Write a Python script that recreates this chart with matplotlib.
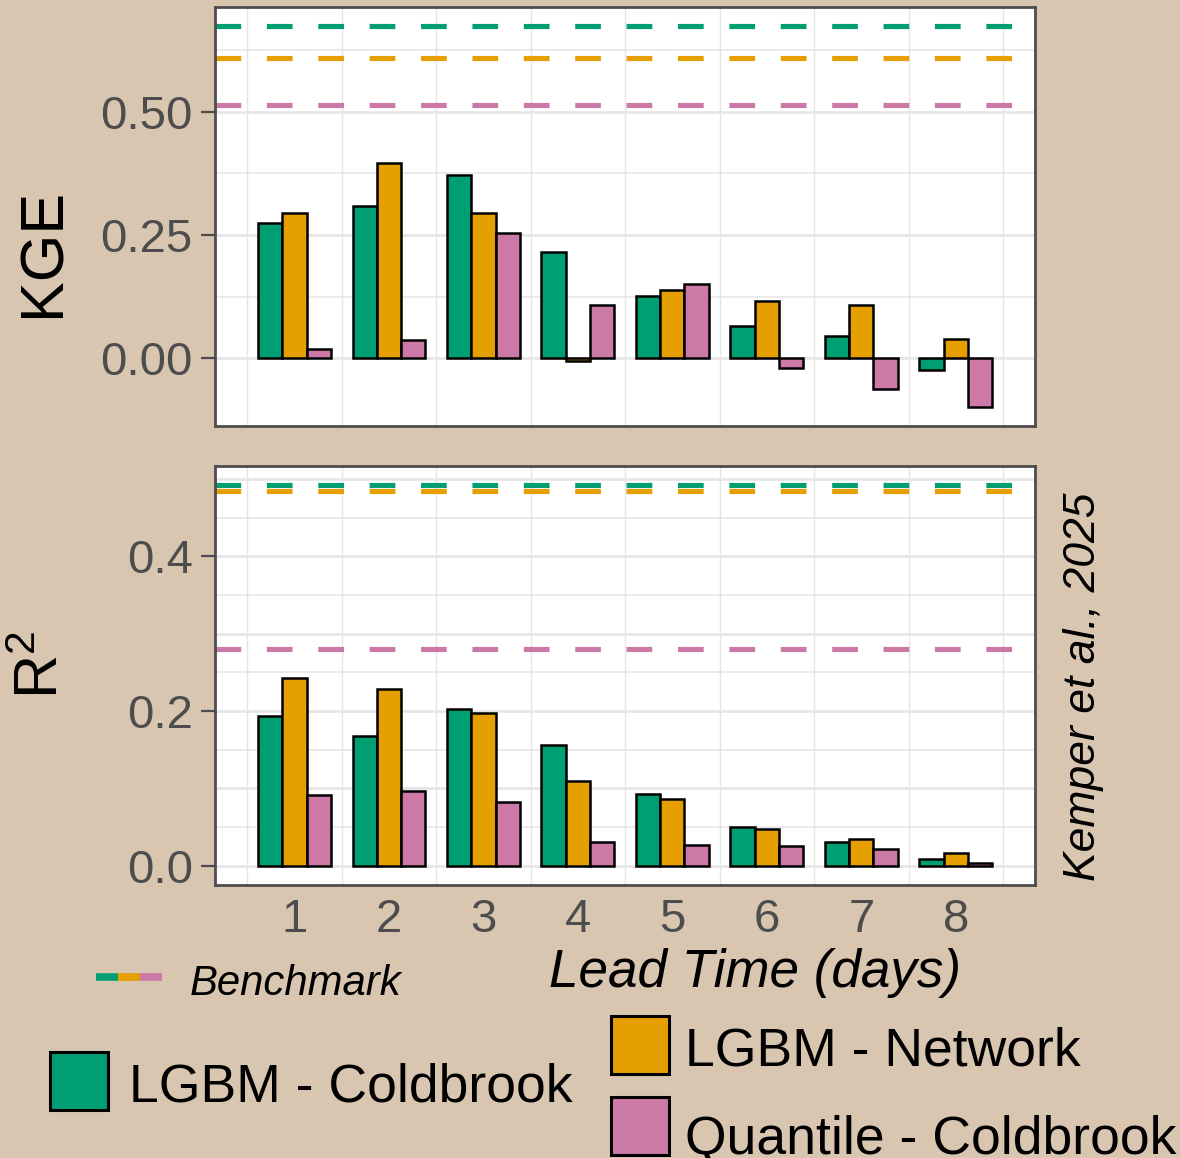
import numpy as np
import matplotlib.pyplot as plt
from matplotlib.patches import Rectangle
from matplotlib.lines import Line2D

plt.rcParams['font.family'] = ['Liberation Sans', 'DejaVu Sans']
plt.rcParams['mathtext.fontset'] = 'custom'
plt.rcParams['mathtext.rm'] = 'Liberation Sans'

# data
lead_days = [1, 2, 3, 4, 5, 6, 7, 8]
models = ['LGBM - Coldbrook', 'LGBM - Network', 'Quantile - Coldbrook']
colors = ['#009E73', '#E69F00', '#CC79A7']

kge_coldbrook = [0.274, 0.309, 0.372, 0.215, 0.126, 0.065, 0.046, -0.024]
kge_network = [0.294, 0.395, 0.295, -0.005, 0.138, 0.117, 0.108, 0.040]
kge_quantile = [0.020, 0.037, 0.255, 0.109, 0.150, -0.020, -0.062, -0.099]
kge_benchmark = [0.673, 0.609, 0.513]

r2_coldbrook = [0.193, 0.168, 0.203, 0.156, 0.093, 0.050, 0.031, 0.009]
r2_network = [0.243, 0.228, 0.197, 0.110, 0.086, 0.048, 0.034, 0.016]
r2_quantile = [0.092, 0.097, 0.083, 0.031, 0.027, 0.025, 0.022, 0.004]
r2_benchmark = [0.493, 0.485, 0.280]

BG = '#d9c6b1'
GRID = '#e5e5e5'
TICK = '#4d4d4d'
W, H = 1180, 1158

fig = plt.figure(figsize=(11.8, 11.58), dpi=100, facecolor=BG)


def px_rect(x0, y0, x1, y1):
    # pixel box -> figure fraction rect
    return [x0 / W, 1 - y1 / H, (x1 - x0) / W, (y1 - y0) / H]


def draw_panel(rect, series, bench, ylim, major, minor, ticks, labels, show_x):
    ax = fig.add_axes(rect)
    ax.set_facecolor('white')
    x = np.array(lead_days, dtype=float)
    w = 0.257
    for i, vals in enumerate(series):
        ax.bar(x + (i - 1) * w, vals, width=w, color=colors[i],
               edgecolor='black', linewidth=1.8, zorder=3)
    for yv in major:
        ax.axhline(yv, color=GRID, lw=1.9, zorder=0)
    for yv in minor:
        ax.axhline(yv, color=GRID, lw=1.1, zorder=0)
    for xv in np.arange(0.5, 9.0, 1.0):
        ax.axvline(xv, color=GRID, lw=1.0, zorder=0)
    for i, b in enumerate(bench):
        ax.axhline(b, color=colors[i], lw=3.7, dashes=(5, 5), zorder=2)
    ax.set_xlim(0.159, 8.839)
    ax.set_ylim(*ylim)
    ax.set_yticks(ticks)
    ax.set_yticklabels(labels)
    ax.tick_params(axis='y', length=10, width=1.6, color=TICK, labelsize=34,
                   labelcolor=TICK, pad=6)
    if show_x:
        ax.set_xticks(lead_days)
        ax.tick_params(axis='x', length=0, labelsize=34, labelcolor=TICK, pad=9)
    else:
        ax.set_xticks([])
    for s in ax.spines.values():
        s.set_color('#4d4d4d')
        s.set_linewidth(2.0)
    return ax


ax1 = draw_panel(px_rect(215, 7, 1035, 426),
                 [kge_coldbrook, kge_network, kge_quantile], kge_benchmark,
                 (-0.137, 0.712), [0.0, 0.25, 0.5], [0.125, 0.375, 0.625],
                 [0.0, 0.25, 0.5], ['0.00', '0.25', '0.50'], False)

ax2 = draw_panel(px_rect(215, 466, 1035, 885),
                 [r2_coldbrook, r2_network, r2_quantile], r2_benchmark,
                 (-0.025, 0.517), [0.0, 0.1, 0.2, 0.3, 0.4, 0.5],
                 [0.05, 0.15, 0.25, 0.35, 0.45],
                 [0.0, 0.2, 0.4], ['0.0', '0.2', '0.4'], True)

# axis titles
fig.text(44 / W, 1 - 252 / H, 'KGE', rotation=90, fontsize=44, color='black',
         ha='center', va='center')
fig.text(42 / W, 1 - 665 / H, r'$\mathregular{R^2}$', rotation=90, fontsize=44,
         color='black', ha='center', va='center')
fig.text(755 / W, 1 - 987 / H, 'Lead Time (days)', fontsize=38.2, style='italic',
         color='black', ha='center', va='baseline')
fig.text(1084 / W, 1 - 687 / H, 'Kemper et al., 2025', rotation=90, fontsize=32,
         style='italic', color='black', ha='center', va='center')

# benchmark legend key
seg = [(96, 118), (118, 140), (140, 162)]
for (a, b), c in zip(seg, colors):
    fig.add_artist(Line2D([a / W, b / W], [1 - 977 / H] * 2, lw=5.5, color=c,
                          solid_capstyle='butt', transform=fig.transFigure))
fig.text(190 / W, 1 - 995 / H, 'Benchmark', fontsize=30.2, style='italic',
         color='black', ha='left', va='baseline')

# fill legend
legend_boxes = [(50, 1052, 129, 1102), (611, 1016, 685, 1065), (611, 1097, 685, 1153)]
for (bx, by, tx, tb), name, c in zip(legend_boxes, models, colors):
    fig.add_artist(Rectangle((bx / W, 1 - (by + 58) / H), 58 / W, 58 / H,
                             facecolor=c, edgecolor='black', lw=2.2,
                             transform=fig.transFigure))
    fig.text(tx / W, 1 - tb / H, name, fontsize=38.5, color='black',
             ha='left', va='baseline')

fig.savefig('out.png', dpi=100, facecolor=BG)
